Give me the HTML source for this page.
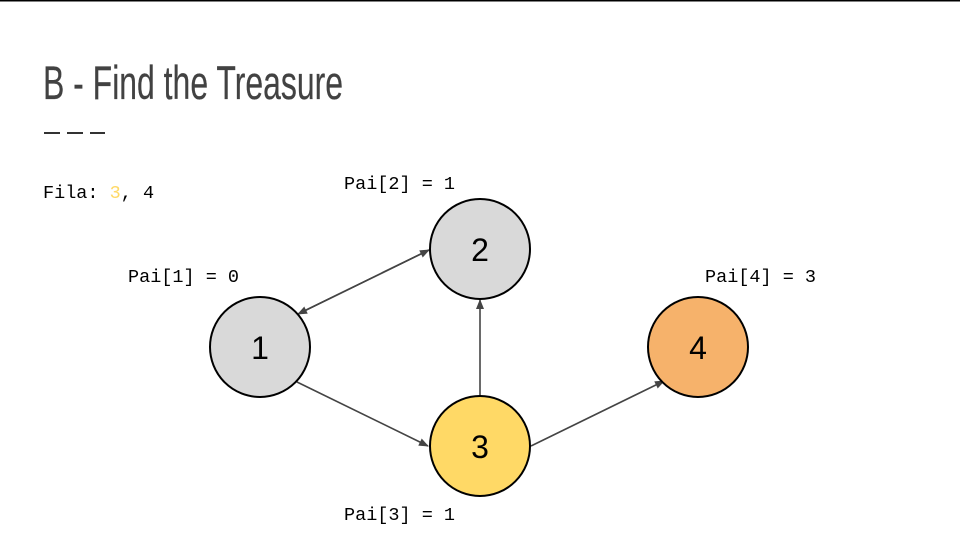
<!DOCTYPE html>
<html><head><meta charset="utf-8"><style>
html,body{margin:0;padding:0;background:#fff;}
body{width:960px;height:540px;overflow:hidden;}
</style></head><body>
<svg width="960" height="540" viewBox="0 0 960 540" xmlns="http://www.w3.org/2000/svg">
<defs>
<marker id="a" markerWidth="10" markerHeight="10" refX="9" refY="5" orient="auto" markerUnits="userSpaceOnUse">
<path d="M0,1 L10,5 L0,9 z" fill="#444"/></marker>
</defs>
<rect x="0" y="0" width="960" height="1.5" fill="#000"/>
<text x="43" y="99" font-family="Liberation Sans, sans-serif" font-size="47" fill="#424242" stroke="#424242" stroke-width="0.2" textLength="300" lengthAdjust="spacingAndGlyphs">B - Find the Treasure</text>
<g stroke="#333" stroke-width="2">
<line x1="44" y1="133" x2="60" y2="133"/><line x1="67" y1="133" x2="83" y2="133"/><line x1="90" y1="133" x2="105" y2="133"/>
</g>
<g font-family="Liberation Mono, monospace" font-size="18.5" fill="#000">
<text x="43" y="198">Fila: <tspan fill="#ffd966">3</tspan>, 4</text>
<text x="344" y="189">Pai[2] = 1</text>
<text x="128" y="282">Pai[1] = 0</text>
<text x="705" y="282">Pai[4] = 3</text>
<text x="344" y="520">Pai[3] = 1</text>
</g>
<g stroke="#444" stroke-width="1.6" fill="none">
<line x1="298" y1="314" x2="429" y2="250" marker-end="url(#a)"/>
<line x1="429" y1="250" x2="298" y2="314" marker-end="url(#a)"/>
<line x1="297" y1="382" x2="428" y2="446" marker-end="url(#a)"/>
<line x1="480" y1="397" x2="480" y2="300" marker-end="url(#a)"/>
<line x1="531" y1="446" x2="664" y2="381" marker-end="url(#a)"/>
</g>
<g stroke="#000" stroke-width="2">
<circle cx="260" cy="347" r="50" fill="#d9d9d9"/>
<circle cx="480" cy="249" r="50" fill="#d9d9d9"/>
<circle cx="480" cy="446" r="50" fill="#ffd966"/>
<circle cx="698" cy="347" r="50" fill="#f6b26b"/>
</g>
<g font-family="Liberation Sans, sans-serif" font-size="32" fill="#000" text-anchor="middle">
<text x="260" y="359">1</text>
<text x="480" y="261">2</text>
<text x="480" y="458">3</text>
<text x="698" y="359">4</text>
</g>
</svg>
</body></html>
